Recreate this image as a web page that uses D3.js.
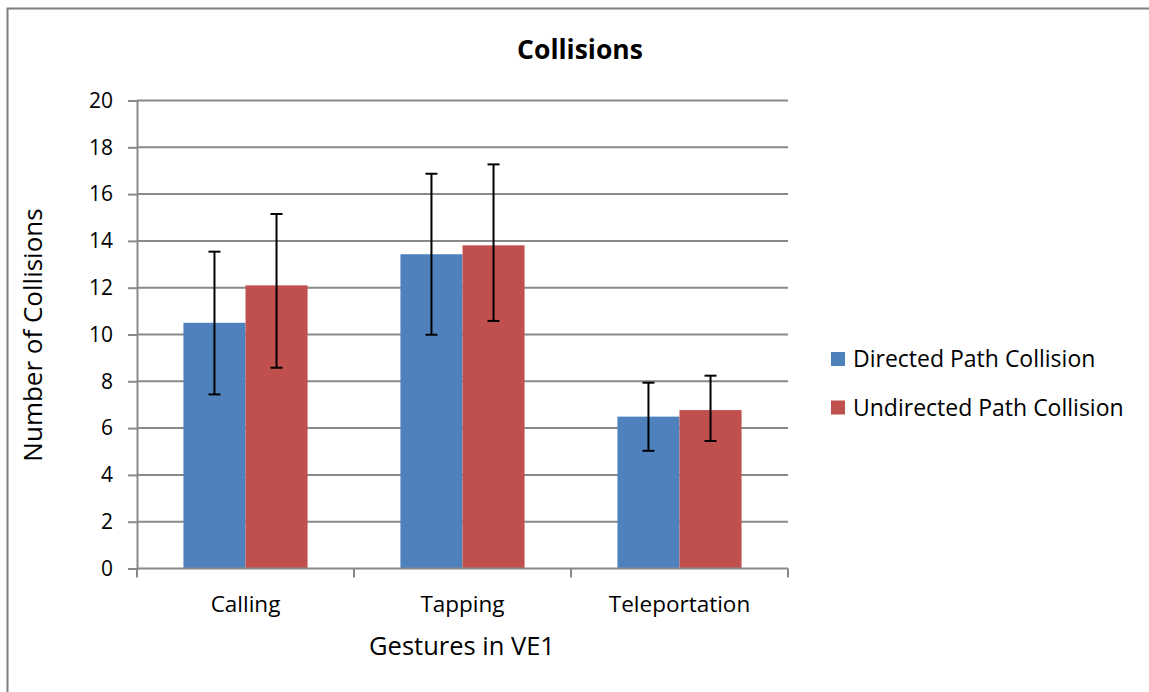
<!DOCTYPE html>
<html>
<head>
<meta charset="utf-8">
<script src="https://cdn.jsdelivr.net/npm/d3@7"></script>
<style>
  html, body { margin: 0; padding: 0; background: #fff; }
  svg { display: block; }
  text { font-family: "Open Sans", "Noto Sans", sans-serif; fill: #000; }
</style>
</head>
<body>
<svg id="chart" width="1149" height="692"></svg>
<script>
// Collisions per gesture, mean with error bar extents
const categories = ["Calling", "Tapping", "Teleportation"];
const seriesNames = ["Directed Path Collision", "Undirected Path Collision"];
const directedValues = [10.5, 13.43, 6.49];
const undirectedValues = [12.1, 13.81, 6.77];
const directedErrLow = [7.44, 9.99, 5.03];
const directedErrHigh = [13.54, 16.87, 7.94];
const undirectedErrLow = [8.58, 10.58, 5.45];
const undirectedErrHigh = [15.15, 17.27, 8.24];
const yTicks = [0, 2, 4, 6, 8, 10, 12, 14, 16, 18, 20];
const colors = ["#4F81BD", "#C0504D"];

const svg = d3.select("#chart");

// outer frame
svg.append("path")
  .attr("d", "M7.5,692 V8.5 H1149")
  .attr("fill", "none")
  .attr("stroke", "#7f7f7f")
  .attr("stroke-width", 2);

const plot = { left: 137, right: 788, top: 100.5, bottom: 568.5 };

const y = d3.scaleLinear().domain([0, 20]).range([plot.bottom, plot.top]);
const x = d3.scaleBand().domain(categories).range([plot.left, plot.right]).padding(0);
const xInner = d3.scaleBand().domain(seriesNames)
  .range([x.bandwidth() * 0.214, x.bandwidth() * 0.786]).padding(0);

const gridColor = "#898989";

// horizontal gridlines
svg.append("g")
  .selectAll("line")
  .data(yTicks.filter(t => t > 0))
  .join("line")
  .attr("x1", plot.left).attr("x2", plot.right)
  .attr("y1", d => y(d)).attr("y2", d => y(d))
  .attr("stroke", gridColor).attr("stroke-width", 2);

// y axis
const yAxis = d3.axisLeft(y).tickValues(yTicks).tickSize(9).tickPadding(15).tickFormat(d3.format("d"));
const gy = svg.append("g").attr("transform", `translate(${plot.left},0)`).call(yAxis);
gy.attr("font-family", null).attr("font-size", null);
gy.select(".domain").attr("stroke", gridColor).attr("stroke-width", 2);
gy.selectAll(".tick line").attr("stroke", gridColor).attr("stroke-width", 2);
gy.selectAll(".tick text").attr("font-size", 21).attr("fill", "#000");

// bars
const series = [
  { name: seriesNames[0], values: directedValues, lo: directedErrLow, hi: directedErrHigh, color: colors[0] },
  { name: seriesNames[1], values: undirectedValues, lo: undirectedErrLow, hi: undirectedErrHigh, color: colors[1] }
];

const barData = [];
series.forEach(s => categories.forEach((c, i) => barData.push({
  cat: c, name: s.name, v: s.values[i], lo: s.lo[i], hi: s.hi[i], color: s.color
})));

svg.append("g")
  .selectAll("rect")
  .data(barData)
  .join("rect")
  .attr("x", d => x(d.cat) + xInner(d.name))
  .attr("width", xInner.bandwidth())
  .attr("y", d => y(d.v))
  .attr("height", d => y(0) - y(d.v))
  .attr("fill", d => d.color);

// x axis
const xAxisG = svg.append("g");
xAxisG.append("line")
  .attr("x1", plot.left).attr("x2", plot.right)
  .attr("y1", y(0)).attr("y2", y(0))
  .attr("stroke", gridColor).attr("stroke-width", 2);
const xTickPos = categories.map(c => x(c)).concat([x(categories[categories.length - 1]) + x.bandwidth()]);
xAxisG.selectAll("line.tk")
  .data(xTickPos)
  .join("line")
  .attr("class", "tk")
  .attr("x1", d => d).attr("x2", d => d)
  .attr("y1", y(0)).attr("y2", y(0) + 9)
  .attr("stroke", gridColor).attr("stroke-width", 2);
xAxisG.selectAll("text")
  .data(categories)
  .join("text")
  .attr("x", d => x(d) + x.bandwidth() / 2)
  .attr("y", 612)
  .attr("text-anchor", "middle")
  .attr("font-size", 22.5)
  .text(d => d);

// error bars
const eb = svg.append("g").attr("stroke", "#000").attr("stroke-width", 2);
barData.forEach(d => {
  const cx = x(d.cat) + xInner(d.name) + xInner.bandwidth() / 2;
  eb.append("line").attr("x1", cx).attr("x2", cx).attr("y1", y(d.lo)).attr("y2", y(d.hi));
  eb.append("line").attr("x1", cx - 6).attr("x2", cx + 6).attr("y1", y(d.lo)).attr("y2", y(d.lo));
  eb.append("line").attr("x1", cx - 6).attr("x2", cx + 6).attr("y1", y(d.hi)).attr("y2", y(d.hi));
});

// titles
svg.append("text")
  .attr("x", 580).attr("y", 59)
  .attr("text-anchor", "middle")
  .attr("font-size", 26.5).attr("font-weight", "bold")
  .text("Collisions");

svg.append("text")
  .attr("x", 462).attr("y", 655)
  .attr("text-anchor", "middle")
  .attr("font-size", 25.5)
  .text("Gestures in VE1");

svg.append("text")
  .attr("transform", "translate(42,335) rotate(-90)")
  .attr("text-anchor", "middle")
  .attr("font-size", 26)
  .text("Number of Collisions");

// legend
const legend = svg.append("g");
series.forEach((s, i) => {
  const ly = 359 + i * 48.5;
  legend.append("rect")
    .attr("x", 831).attr("y", ly - 7)
    .attr("width", 14).attr("height", 14)
    .attr("fill", s.color);
  legend.append("text")
    .attr("x", 853).attr("y", ly + 8)
    .attr("font-size", 23)
    .text(s.name);
});
</script>
</body>
</html>
